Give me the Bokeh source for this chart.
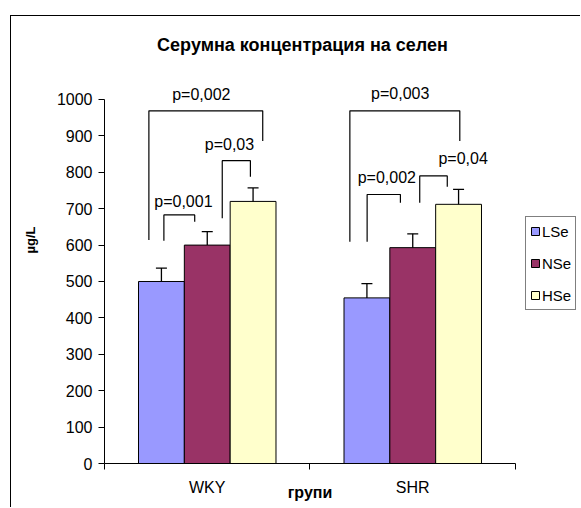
import numpy as np
from bokeh.plotting import figure
from bokeh.models import (Range1d, FixedTicker, Whisker, TeeHead, ColumnDataSource,
                          Legend, LegendItem, Label, LinearAxis)
from bokeh.core.properties import value
from bokeh.embed import file_html
from bokeh.resources import INLINE

# ---- data ----
groups = ["WKY", "SHR"]
series = ["LSe", "NSe", "HSe"]
lse = [500, 455]
nse = [600, 593]
hse = [720, 712]
lse_err = [37, 39]
nse_err = [37, 38]
hse_err = [37, 41]
colors = ["#9999FF", "#993366", "#FFFFCC"]

title_text = "Серумна концентрация на селен"
y_title = "µg/L"
x_title = "групи"
y_ticks = list(range(0, 1001, 100))

# significance annotations: left x, right x, top y, left-end y, right-end y, label x, label y
p_labels = ["p=0,002", "p=0,03", "p=0,001", "p=0,003", "p=0,002", "p=0,04"]
brackets = [
    (0.216, 0.770, 969, 614, 886, 0.471, 1015),
    (0.573, 0.710, 832, 674, 788, 0.608, 875),
    (0.289, 0.439, 683, 612, 664, 0.384, 719),
    (1.194, 1.729, 969, 609, 886, 1.439, 1017),
    (1.278, 1.440, 739, 609, 716, 1.374, 786),
    (1.534, 1.668, 790, 716, 760, 1.745, 837),
]

FONT = "Liberation Sans"
bar_w = 0.223

p = figure(width=570, height=492, x_range=Range1d(0, 2.3212), y_range=Range1d(0, 1228),
           output_backend="svg", toolbar_location=None,
           min_border_left=93, min_border_right=0, min_border_top=0, min_border_bottom=45)
p.styles = {"margin-left": "10px", "margin-top": "15px",
            "border-left": "1px solid black", "border-top": "1px solid black",
            "border-right": "none", "border-bottom": "none"}
p.outline_line_color = None
p.xgrid.grid_line_color = None
p.ygrid.grid_line_color = None
p.background_fill_color = "white"
p.border_fill_color = "white"

vals = [lse, nse, hse]
errs = [lse_err, nse_err, hse_err]
renderers = []
for j, (v, e, c) in enumerate(zip(vals, errs, colors)):
    xs = np.arange(len(groups)) + 0.5 + (j - 1) * bar_w
    v = np.array(v, dtype=float)
    e = np.array(e, dtype=float)
    src = ColumnDataSource(dict(x=xs, top=v, upper=v + e, lower=v - e))
    r = p.vbar(x="x", top="top", width=bar_w, source=src, fill_color=c,
               line_color="black", line_width=1)
    renderers.append(r)
    w = Whisker(base="x", upper="upper", lower="lower", source=src,
                line_color="black", line_width=1.3,
                upper_head=TeeHead(size=11, line_color="black", line_width=1.3),
                lower_head=TeeHead(size=11, line_color="black", line_width=1.3))
    p.add_layout(w)

# brackets
bx, by = [], []
for (xl, xr, yt, yl, yr, tx, ty) in brackets:
    bx.append([xl, xl, xr, xr])
    by.append([yl, yt, yt, yr])
p.multi_line(xs=bx, ys=by, line_color="black", line_width=1.2)
p.text(x=[b[5] for b in brackets], y=[b[6] for b in brackets], text=p_labels,
       text_font=value(FONT), text_font_size="16px", text_align="center",
       text_baseline="middle", text_color="black")

# title inside the (extended) frame
p.add_layout(Label(x=0.9635, y=1149, text=title_text, text_font=FONT, text_font_size="18px",
                   text_font_style="bold", text_align="center", text_baseline="middle",
                   text_color="black"))

# axes
ya = p.yaxis[0]
ya.ticker = FixedTicker(ticks=y_ticks)
ya.bounds = (0, 1000)
ya.major_tick_out = 6
ya.major_tick_in = 0
ya.minor_tick_out = 0
ya.minor_tick_in = 0
ya.axis_line_color = "black"
ya.major_tick_line_color = "black"
ya.major_label_text_font = FONT
ya.major_label_text_font_size = "16px"
ya.major_label_text_color = "black"
ya.major_label_standoff = 6
ya.axis_label = y_title
ya.axis_label_text_font = FONT
ya.axis_label_text_font_size = "13px"
ya.axis_label_text_font_style = "bold"
ya.axis_label_text_color = "black"
ya.axis_label_standoff = 16

xa = p.xaxis[0]
xa.ticker = FixedTicker(ticks=[0.5, 1.5], minor_ticks=[0, 1, 2])
xa.bounds = (0, 2)
xa.major_label_overrides = {0.5: groups[0], 1.5: groups[1]}
xa.major_tick_out = 0
xa.major_tick_in = 0
xa.minor_tick_out = 6
xa.minor_tick_in = 0
xa.minor_tick_line_color = "black"
xa.axis_line_color = "black"
xa.major_label_text_font = FONT
xa.major_label_text_font_size = "16px"
xa.major_label_text_color = "black"
xa.major_label_standoff = 9

# category-axis title, drawn as the single label of a second bottom axis
xt = LinearAxis(ticker=FixedTicker(ticks=[1.0], minor_ticks=[]), bounds=(0, 2),
                major_label_overrides={1.0: x_title},
                axis_line_color=None, major_tick_line_color=None, minor_tick_line_color=None,
                major_tick_out=0, minor_tick_out=0,
                major_label_text_font=FONT, major_label_text_font_size="16px",
                major_label_text_font_style="bold", major_label_text_color="black",
                major_label_standoff=-15)
p.add_layout(xt, "below")

legend = Legend(items=[LegendItem(label=s, renderers=[r]) for s, r in zip(series, renderers)],
                location=(421, 153), orientation="vertical", margin=0,
                label_text_font=FONT, label_text_font_size="15px", label_text_color="black",
                glyph_width=10, glyph_height=10, label_height=20, label_standoff=2,
                spacing=12, padding=4, border_line_color="black", border_line_width=1,
                background_fill_color="white", background_fill_alpha=1.0)
p.add_layout(legend)

open("out.html", "w").write(file_html(p, INLINE))
